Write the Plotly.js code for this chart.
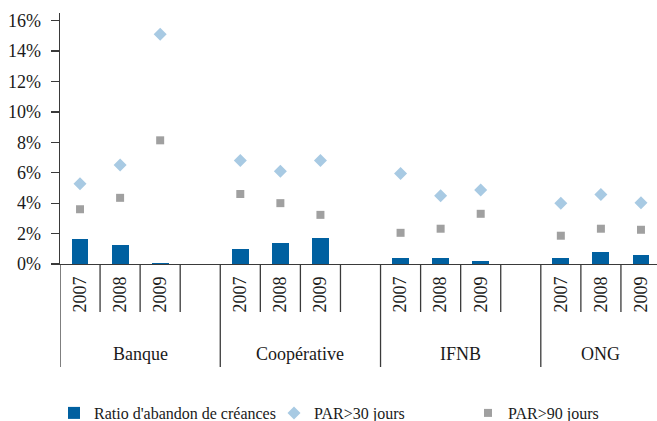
<!DOCTYPE html>
<html>
<head>
<meta charset="utf-8">
<script src="https://cdn.plot.ly/plotly-3.0.1.min.js"></script>
<style>
  html, body { margin: 0; padding: 0; overflow: hidden; background: #fff; }
  #chart { width: 665px; height: 421px; }
</style>
</head>
<body>
<div id="chart"></div>
<script>
// ---- data ----
const groups = ["Banque", "Coopérative", "IFNB", "ONG"];
const years = ["2007", "2008", "2009"];
// values in percent, ordered group by group, year by year
const ratioAbandon = [1.65, 1.25, 0.05, 0.98, 1.38, 1.70, 0.39, 0.39, 0.20, 0.39, 0.79, 0.59];
const par30 = [5.27, 6.50, 15.10, 6.80, 6.10, 6.80, 5.95, 4.48, 4.87, 4.00, 4.57, 4.02];
const par90 = [3.60, 4.35, 8.13, 4.60, 4.00, 3.23, 2.05, 2.32, 3.30, 1.86, 2.32, 2.25];
const seriesNames = ["Ratio d'abandon de créances", "PAR>30 jours", "PAR>90 jours"];
const yTicks = [0, 2, 4, 6, 8, 10, 12, 14, 16];

// ---- layout helpers ----
const slotsPerGroup = years.length + 1;
const xPos = [];
const yearLabels = [];
groups.forEach((g, gi) => years.forEach((y, yi) => {
  xPos.push(gi * slotsPerGroup + yi);
  yearLabels.push(y);
}));
const lastX = (groups.length - 1) * slotsPerGroup + years.length - 1;
const xRange = [-0.5, lastX + 0.5];
const pct = a => a.map(v => v / 100);

const FONT = "'Liberation Serif', 'Times New Roman', Times, serif";
const LINE = "#3a3a3a";
const TEXT = "#1a1a1a";
const W = 665, H = 421;
const plotH = 251;

const shapes = [];
const annotations = [];
groups.forEach((g, gi) => {
  const start = gi * slotsPerGroup - 0.5;
  const end = Math.min(start + slotsPerGroup, xRange[1]);
  shapes.push({type: "line", xref: "x", yref: "paper", x0: start, x1: start,
    y0: 0, y1: -103 / plotH, line: {color: LINE, width: 1.3}});
  for (let k = 1; k <= years.length; k++) {
    const bx = start + k;
    if (bx >= xRange[1]) continue;
    shapes.push({type: "line", xref: "x", yref: "paper", x0: bx, x1: bx,
      y0: 0, y1: -48 / plotH, line: {color: LINE, width: 1.3}});
  }
  annotations.push({text: g, xref: "x", yref: "paper", x: (start + end) / 2,
    y: -90 / plotH, yanchor: "middle", xanchor: "center", showarrow: false,
    font: {family: FONT, size: 18, color: TEXT}});
});

const traces = [
  {type: "bar", name: seriesNames[0], x: xPos, y: pct(ratioAbandon), legend: "legend",
   width: 0.42, marker: {color: "#0060a0"}},
  {type: "scatter", mode: "markers", name: seriesNames[1], x: xPos, y: pct(par30), legend: "legend2",
   marker: {symbol: "diamond", size: 10, color: "#a8cae3"}},
  {type: "scatter", mode: "markers", name: seriesNames[2], x: xPos, y: pct(par90), legend: "legend3",
   marker: {symbol: "square", size: 8, color: "#a0a0a0"}}
];

function legendAt(px) {
  return {orientation: "h", xref: "container", yref: "container", x: px / W, y: 1 - 413 / H,
    xanchor: "left", yanchor: "middle", bgcolor: "rgba(0,0,0,0)",
    font: {family: FONT, size: 16, color: TEXT}};
}

const layout = {
  width: W, height: H,
  margin: {l: 60, r: 4, t: 13, b: 157},
  paper_bgcolor: "#fff", plot_bgcolor: "#fff",
  font: {family: FONT, color: TEXT, size: 18},
  showlegend: true,
  legend: legendAt(54),
  legend2: legendAt(274),
  legend3: legendAt(468),
  xaxis: {range: xRange, tickvals: xPos, ticktext: yearLabels, tickangle: -90,
    ticks: "", showgrid: false, zeroline: false, showline: true, linecolor: LINE,
    linewidth: 1.3, tickfont: {family: FONT, size: 18, color: TEXT},
    ticklabelstandoff: 4, fixedrange: true},
  yaxis: {range: [0, 0.165], tickvals: pct(yTicks), tickformat: ".0%",
    ticks: "outside", ticklen: 8, tickcolor: LINE, tickwidth: 1.3,
    showline: true, linecolor: LINE, linewidth: 1.3, showgrid: false, zeroline: false,
    tickfont: {family: FONT, size: 18, color: TEXT}, ticklabelstandoff: 6,
    fixedrange: true},
  bargap: 0,
  shapes: shapes,
  annotations: annotations
};

Plotly.newPlot("chart", traces, layout, {displayModeBar: false, staticPlot: true});
</script>
</body>
</html>
